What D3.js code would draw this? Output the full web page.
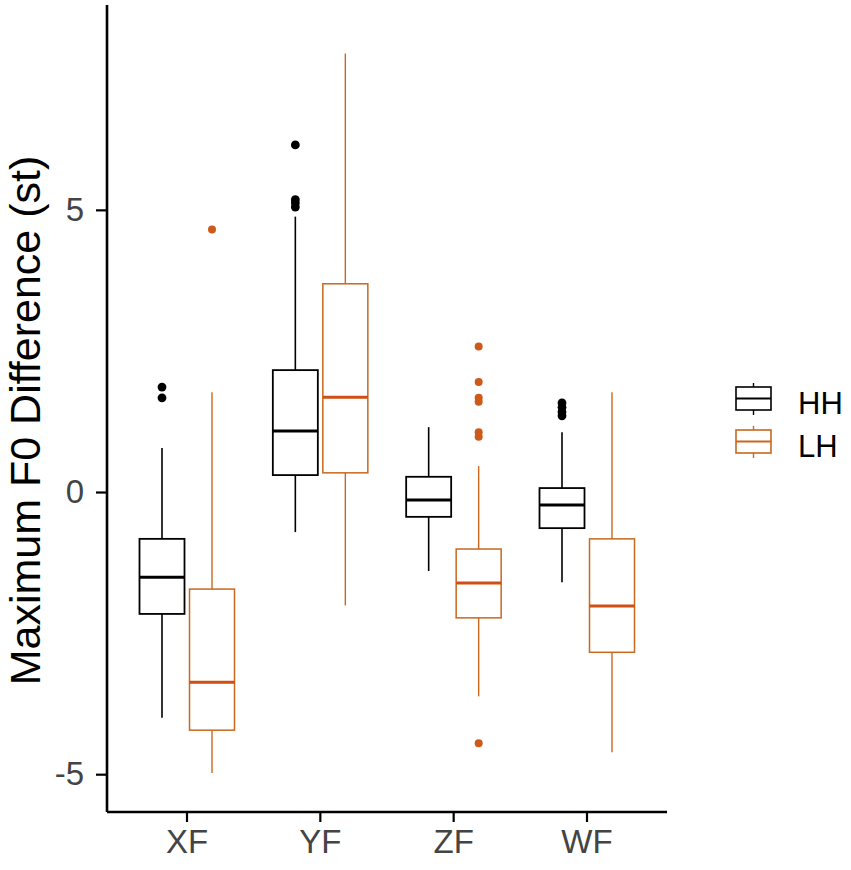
<!DOCTYPE html>
<html lang="en">
<head>
<meta charset="UTF-8">
<script src="https://d3js.org/d3.v7.min.js"></script>
<style>
  body { margin: 0; padding: 0; background: #fff; }
  svg { display: block; font-family: "Liberation Sans", Arial, sans-serif; }
</style>
</head>
<body>
<div id="chart"></div>
<script>
// Data: [lower whisker, Q1, median, Q3, upper whisker]
const categories = ["XF", "YF", "ZF", "WF"];
const groups = ["HH", "LH"];
const hhStats = [
  [-4.00, -2.16, -1.51, -0.83, 0.78],
  [-0.71, 0.30, 1.08, 2.16, 4.88],
  [-1.40, -0.44, -0.14, 0.27, 1.15],
  [-1.60, -0.64, -0.23, 0.07, 1.06]
];
const lhStats = [
  [-4.98, -4.22, -3.37, -1.72, 1.77],
  [-2.01, 0.34, 1.68, 3.69, 7.77],
  [-3.62, -2.23, -1.61, -1.01, 0.46],
  [-4.61, -2.84, -2.02, -0.83, 1.77]
];
const hhOutliers = [
  [1.86, 1.67],
  [6.15, 5.18, 5.12, 5.05],
  [],
  [1.58, 1.50, 1.42, 1.35]
];
const lhOutliers = [
  [4.65],
  [],
  [2.58, 1.95, 1.67, 1.60, 1.06, 0.98, -4.45],
  []
];
const yTicks = [-5, 0, 5];

const colors = { HH: "#000000", LH: "#C9681F" };
const pointColors = { HH: "#000000", LH: "#CD5A1A" };

const width = 851, height = 870;
const margin = { top: 5, right: 184, bottom: 58, left: 107 };

const svg = d3.select("#chart").append("svg")
  .attr("width", width)
  .attr("height", height);

const x = d3.scaleBand()
  .domain(categories)
  .range([margin.left, width - margin.right])
  .paddingInner(0)
  .paddingOuter(0.1);

const xGroup = d3.scaleBand()
  .domain(groups)
  .range([x.bandwidth() * 0.125, x.bandwidth() * 0.875]);

const y = d3.scaleLinear()
  .domain([-5.67, 8.63])
  .range([height - margin.bottom, margin.top]);

// build box records
const boxes = [];
categories.forEach((c, i) => {
  boxes.push({ cat: c, group: "HH", s: hhStats[i], out: hhOutliers[i] });
  boxes.push({ cat: c, group: "LH", s: lhStats[i], out: lhOutliers[i] });
});

const boxW = xGroup.bandwidth() * 0.9;

const g = svg.append("g");

const bg = g.selectAll("g.box")
  .data(boxes)
  .join("g")
  .attr("class", "box")
  .attr("transform", d => `translate(${x(d.cat) + xGroup(d.group) + xGroup.bandwidth() / 2},0)`);

// whiskers
bg.append("line")
  .attr("x1", 0).attr("x2", 0)
  .attr("y1", d => y(d.s[4])).attr("y2", d => y(d.s[3]))
  .attr("stroke", d => colors[d.group])
  .attr("stroke-width", d => d.group === "HH" ? 1.6 : 1.4);
bg.append("line")
  .attr("x1", 0).attr("x2", 0)
  .attr("y1", d => y(d.s[1])).attr("y2", d => y(d.s[0]))
  .attr("stroke", d => colors[d.group])
  .attr("stroke-width", d => d.group === "HH" ? 1.6 : 1.4);

// box
bg.append("rect")
  .attr("x", -boxW / 2)
  .attr("width", boxW)
  .attr("y", d => y(d.s[3]))
  .attr("height", d => y(d.s[1]) - y(d.s[3]))
  .attr("fill", "#fff")
  .attr("stroke", d => colors[d.group])
  .attr("stroke-width", d => d.group === "HH" ? 1.8 : 1.5);

// median
bg.append("line")
  .attr("x1", -boxW / 2).attr("x2", boxW / 2)
  .attr("y1", d => y(d.s[2])).attr("y2", d => y(d.s[2]))
  .attr("stroke", d => d.group === "HH" ? colors.HH : "#CF4E12")
  .attr("stroke-width", 3);

// outliers
bg.selectAll("circle")
  .data(d => d.out.map(v => ({ v, group: d.group })))
  .join("circle")
  .attr("cx", 0)
  .attr("cy", d => y(d.v))
  .attr("r", d => d.group === "HH" ? 4.4 : 4)
  .attr("fill", d => pointColors[d.group]);

// axes
const yAxis = svg.append("g")
  .attr("transform", `translate(${margin.left},0)`)
  .call(d3.axisLeft(y).tickValues(yTicks).tickSize(11).tickPadding(12));
const xAxis = svg.append("g")
  .attr("transform", `translate(0,${height - margin.bottom})`)
  .call(d3.axisBottom(x).tickSize(10).tickPadding(8));

[yAxis, xAxis].forEach(ax => {
  ax.select(".domain").attr("stroke", "#000").attr("stroke-width", 2.6);
  ax.selectAll(".tick line").attr("stroke", "#000").attr("stroke-width", 2.2);
  ax.selectAll(".tick text")
    .attr("fill", "#444")
    .style("font-size", "33px")
    .style("font-family", "'Liberation Sans', Arial, sans-serif");
});
// ggplot-style axis lines end exactly at the panel edges
yAxis.select(".domain").attr("d", `M0,${y.range()[1]}V${y.range()[0]}`);
xAxis.select(".domain").attr("d", `M${x.range()[0]},0H${x.range()[1]}`);
yAxis.selectAll(".tick text").text(d => d < 0 ? "-" + Math.abs(d) : d);

// y axis title
svg.append("text")
  .attr("transform", `translate(40,${(y.range()[0] + y.range()[1]) / 2 + 12}) rotate(-90)`)
  .attr("text-anchor", "middle")
  .style("font-size", "43px")
  .attr("fill", "#000")
  .text("Maximum F0 Difference (st)");

// legend
const legend = svg.append("g").attr("transform", "translate(736,378)");
const legRow = legend.selectAll("g")
  .data(groups)
  .join("g")
  .attr("transform", (d, i) => `translate(0,${i * 43})`);

legRow.append("line")
  .attr("x1", 17.5).attr("x2", 17.5).attr("y1", 5).attr("y2", 37)
  .attr("stroke", d => colors[d]).attr("stroke-width", 1.4);
legRow.append("rect")
  .attr("x", 0).attr("y", 9).attr("width", 35).attr("height", 23)
  .attr("fill", "#fff")
  .attr("stroke", d => colors[d]).attr("stroke-width", 1.6);
legRow.append("line")
  .attr("x1", 0).attr("x2", 35).attr("y1", 20.5).attr("y2", 20.5)
  .attr("stroke", d => colors[d]).attr("stroke-width", 1.8);
legRow.append("text")
  .attr("x", 62).attr("y", 36)
  .style("font-size", "31px")
  .attr("fill", "#000")
  .text(d => d);
</script>
</body>
</html>
